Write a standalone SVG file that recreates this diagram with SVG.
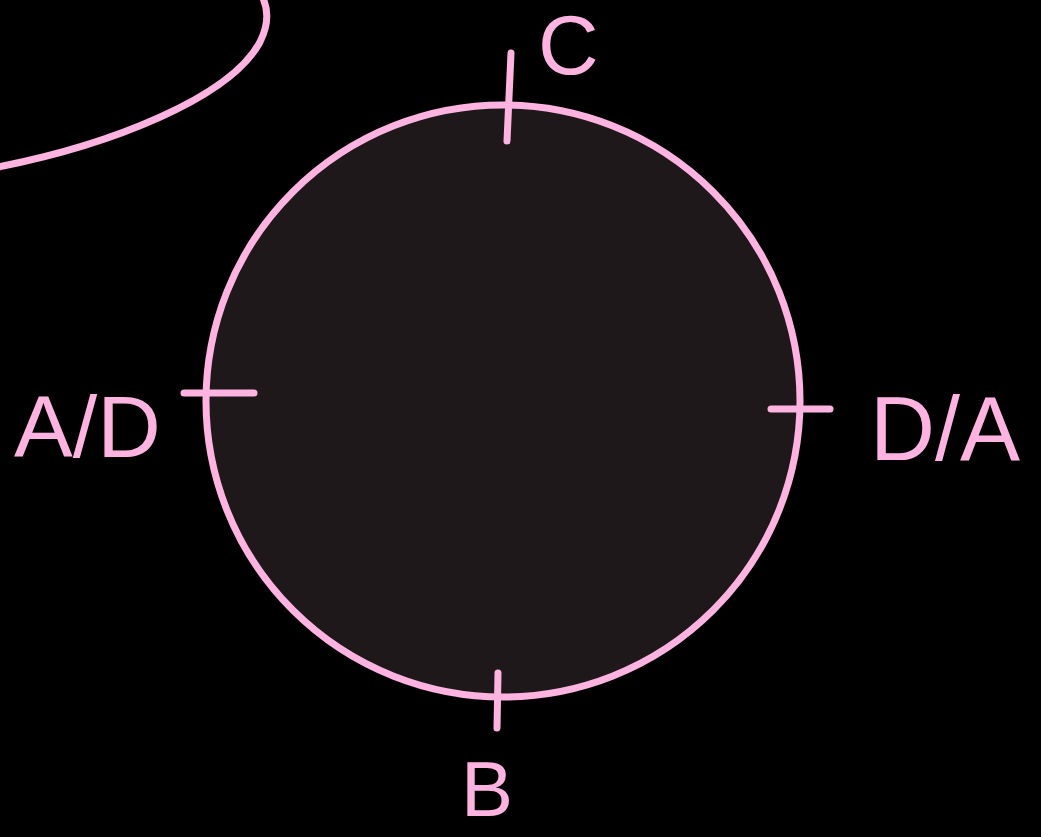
<svg xmlns="http://www.w3.org/2000/svg" width="1041" height="837" viewBox="0 0 1041 837">
<style>
.ink{fill:none;stroke:#ffb3e0;stroke-width:7;stroke-linecap:round;stroke-linejoin:round}
.lbl{fill:#ffb3e0;font-family:"Liberation Sans","DejaVu Sans",sans-serif;font-weight:normal}
</style>
<rect width="1041" height="837" fill="#000"/>
<g id="arc-top-left">
<path class="ink" d="M-2,167 C110,145 230,98 260,42 C270,22 268,8 262,-4"/>
</g>
<g id="circle">
<ellipse cx="503" cy="401" rx="297" ry="296" fill="#1e181b" stroke="#ffb3e0" stroke-width="7"/>
</g>
<g id="connectors">
<path class="ink" d="M511,53 L507,141"/>
<path class="ink" d="M184,393 L254,393"/>
<path class="ink" d="M771,409 L830,409"/>
<path class="ink" d="M498,673 L497,728"/>
</g>
<g id="label-C"><text class="lbl" x="538" y="74" font-size="84">C</text></g>
<g id="label-AD"><text class="lbl" x="14" y="457" font-size="88">A/D</text></g>
<g id="label-DA"><text class="lbl" x="870" y="460" font-size="90">D/A</text></g>
<g id="label-B"><text class="lbl" x="461" y="816" font-size="78">B</text></g>
</svg>
